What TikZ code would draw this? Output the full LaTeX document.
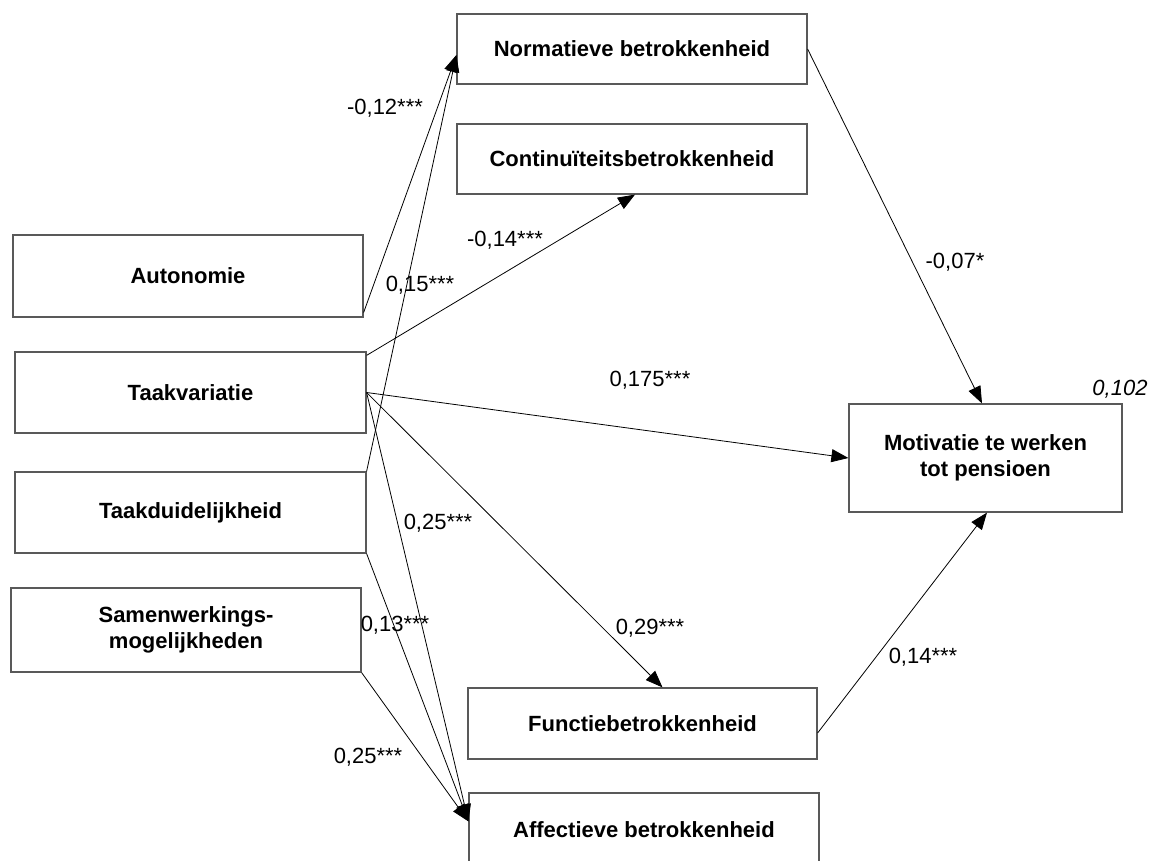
\documentclass[tikz,border=0pt]{standalone}
\usepackage{fontspec}
\setmainfont{Liberation Sans}
\usetikzlibrary{arrows.meta}
\begin{document}
\begin{tikzpicture}[x=0.5pt,y=-0.5pt,
  box/.style={draw=black!65, line width=0.6pt, fill=white, inner sep=0pt, align=center,
    font=\fontsize{11}{13.2}\selectfont\bfseries},
  coef/.style={font=\fontsize{11}{13.2}\selectfont, inner sep=0pt},
  path/.style={draw=black, line width=0.4pt, -{Triangle[length=8.5pt,width=6.5pt]}}]
\useasboundingbox (0,0) rectangle (1152,861);
\clip (0,0) rectangle (1152,861);

\node[box, minimum width=175pt, minimum height=35pt] (norm) at (632,49) {Normatieve betrokkenheid};
\node[box, minimum width=175pt, minimum height=35pt] (cont) at (632,159) {Continuïteitsbetrokkenheid};
\node[box, minimum width=175pt, minimum height=41pt] (auto) at (188,276) {Autonomie};
\node[box, minimum width=175.5pt, minimum height=40.5pt] (taakv) at (190.5,392.5) {Taakvariatie};
\node[box, minimum width=175.5pt, minimum height=40.5pt] (taakd) at (190.5,512.5) {Taakduidelijkheid};
\node[box, minimum width=175pt, minimum height=42pt] (samen) at (186,630) {Samenwerkings-\\mogelijkheden};
\node[box, minimum width=174.5pt, minimum height=35.5pt] (func) at (642.5,723.5) {Functiebetrokkenheid};
\node[box, minimum width=175pt, minimum height=37pt] (aff) at (644,830) {Affectieve betrokkenheid};
\node[box, minimum width=136.5pt, minimum height=54pt] (motiv) at (985.5,458) {Motivatie te werken\\tot pensioen};
\node[coef, font=\fontsize{11}{13.2}\selectfont\itshape] (r2) at (1120,389) {0,102};

\coordinate (normin) at ([yshift=-3pt]norm.west);
\coordinate (affin) at ([yshift=-14.5pt]aff.north west);

\draw[path] ([yshift=2.5pt]auto.south east) -- (normin);
\draw[path] (taakd.north east) -- (normin);
\draw[path] ([yshift=-2pt]taakv.north east) -- ([xshift=1.5pt]cont.south);
\draw[path] (taakv.east) -- (motiv.west);
\draw[path] (taakv.east) -- ([xshift=10pt]func.north);
\draw[path] (taakv.east) -- (affin);
\draw[path] (taakd.south east) -- (affin);
\draw[path] (samen.south east) -- (affin);
\draw[path] (norm.east) -- ([xshift=-1.75pt]motiv.north);
\draw[path] ([yshift=-4.75pt]func.east) -- ([xshift=0.75pt]motiv.south);

\node[coef] (c1) at (385,108) {-0,12***};
\node[coef] (c2) at (420,285) {0,15***};
\node[coef] (c3) at (505,240) {-0,14***};
\node[coef] (c4) at (650,380) {0,175***};
\node[coef] (c5) at (438,523) {0,25***};
\node[coef] (c6) at (650,628) {0,29***};
\node[coef] (c7) at (395,625) {0,13***};
\node[coef] (c8) at (368,757) {0,25***};
\node[coef] (c9) at (955,262) {-0,07*};
\node[coef] (c10) at (923,657) {0,14***};
\end{tikzpicture}
\end{document}
